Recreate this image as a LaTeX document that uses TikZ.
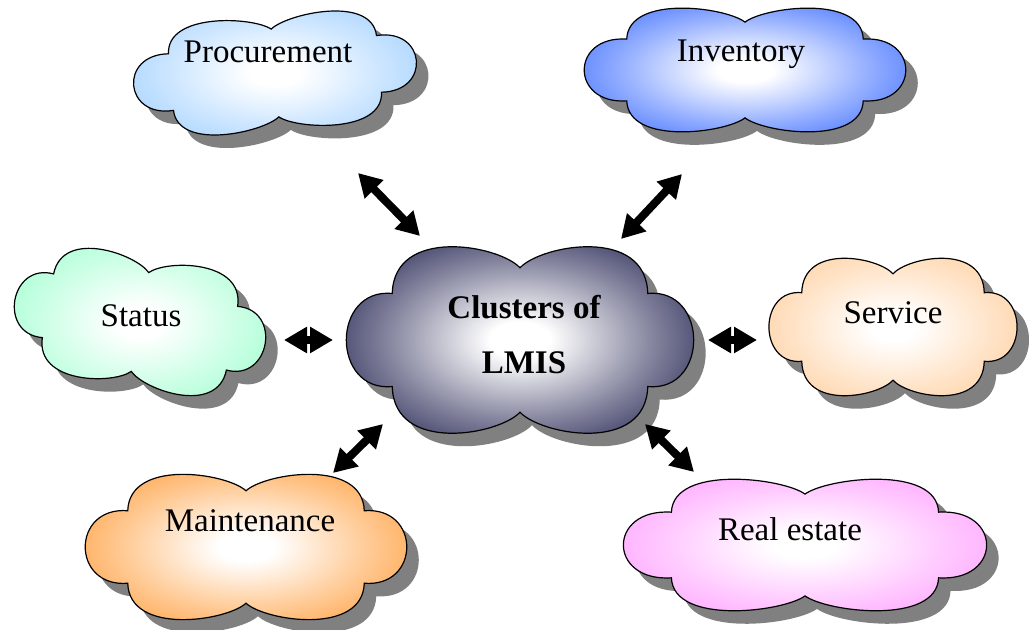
\documentclass[tikz,border=0pt]{standalone}
\usepackage{fontspec}
\setmainfont{Liberation Serif}
\usetikzlibrary{arrows.meta}

% fill colours of the clouds
\definecolor{procblue}{RGB}{153,204,255}
\definecolor{invblue}{RGB}{51,102,255}
\definecolor{statusgreen}{RGB}{153,255,204}
\definecolor{serviceorange}{RGB}{255,204,153}
\definecolor{maintorange}{RGB}{255,153,51}
\definecolor{realpink}{RGB}{255,153,255}
\definecolor{lmisnavy}{RGB}{20,20,70}
\definecolor{cloudshadow}{RGB}{128,128,128}
\colorlet{cloudouter}{procblue}

% white centre fading to the cloud colour at the rim
\pgfdeclareradialshading[cloudouter]{cloudglow}{\pgfpointorigin}{%
  color(0bp)=(white); color(4bp)=(white);
  color(17bp)=(cloudouter!50!white);
  color(31bp)=(cloudouter); color(50bp)=(cloudouter)}

% cloud outline in unit coordinates (y pointing down)
\newcommand\cloudpath{(0,-0.76)
  .. controls (0.12,-1.0) and (0.72,-1.2) .. (0.73,-0.49)
  .. controls (1.08,-0.55) and (1.08,0.55) .. (0.73,0.49)
  .. controls (0.72,1.2) and (0.12,1.0) .. (0,0.76)
  .. controls (-0.12,1.0) and (-0.72,1.2) .. (-0.73,0.49)
  .. controls (-1.08,0.55) and (-1.08,-0.55) .. (-0.73,-0.49)
  .. controls (-0.72,-1.2) and (-0.12,-1.0) .. (0,-0.76) -- cycle}

% #1,#2 centre, #3 half width, #4 half height, #5 rotation, #6 colour
\newcommand\lmiscloud[6]{%
  \begin{scope}[shift={(#1+12,#2+13)}, rotate=#5, xscale=#3, yscale=#4]
    \fill[cloudshadow] \cloudpath;
  \end{scope}
  \begin{scope}[shift={(#1,#2)}, rotate=#5, xscale=#3, yscale=#4]
    \colorlet{cloudouter}{#6}
    \shadedraw[shading=cloudglow, draw=black, line width=0.6pt] \cloudpath;
  \end{scope}}

\begin{document}
\begin{tikzpicture}[x=0.5pt, y=-0.5pt,
  lbl/.style={font=\fontsize{16.5}{20}\selectfont, inner sep=0pt, anchor=base},
  hub/.style={font=\bfseries\fontsize{16.5}{27.5}\selectfont, inner sep=0pt, align=center},
  link/.style={line width=4pt,
    {Triangle[width=12.5pt,length=11.5pt]}-{Triangle[width=12.5pt,length=11.5pt]}}]
  \useasboundingbox (0,0) rectangle (1029,630);

  % clouds
  \lmiscloud{275}{73}{143}{58}{5}{procblue}
  \lmiscloud{745}{70}{162}{63}{0}{invblue}
  \lmiscloud{140}{322}{128}{66}{-10}{statusgreen}
  \lmiscloud{893}{327}{125}{70}{0}{serviceorange}
  \lmiscloud{246}{547}{162}{74}{0}{maintorange}
  \lmiscloud{805}{545}{183}{67}{0}{realpink}
  \lmiscloud{520}{340}{175}{95}{0}{lmisnavy}

  % labels
  \node[lbl] (proc) at (268,63) {Procurement};
  \node[lbl] (inv) at (741,62) {Inventory};
  \node[lbl] (stat) at (141,327) {Status};
  \node[lbl] (serv) at (893,324) {Service};
  \node[lbl] (maint) at (250,532) {Maintenance};
  \node[lbl] (real) at (790,541) {Real estate};
  \node[hub] (lmis) at (524,335) {Clusters of\\LMIS};

  % ends of the double arrows
  \coordinate (procend) at (358,173);
  \coordinate (prochub) at (420,236);
  \coordinate (invend) at (682,174);
  \coordinate (invhub) at (621,239);
  \coordinate (statend) at (284,340);
  \coordinate (stathub) at (333,340);
  \coordinate (servend) at (757,340);
  \coordinate (servhub) at (708,340);
  \coordinate (maintend) at (333,473);
  \coordinate (mainthub) at (383,424);
  \coordinate (realend) at (694,472);
  \coordinate (realhub) at (645,424);

  \draw[link] (procend) -- (prochub);
  \draw[link] (invend) -- (invhub);
  \draw[link] (statend) -- (stathub);
  \draw[link] (servend) -- (servhub);
  \draw[link] (maintend) -- (mainthub);
  \draw[link] (realend) -- (realhub);
\end{tikzpicture}
\end{document}
